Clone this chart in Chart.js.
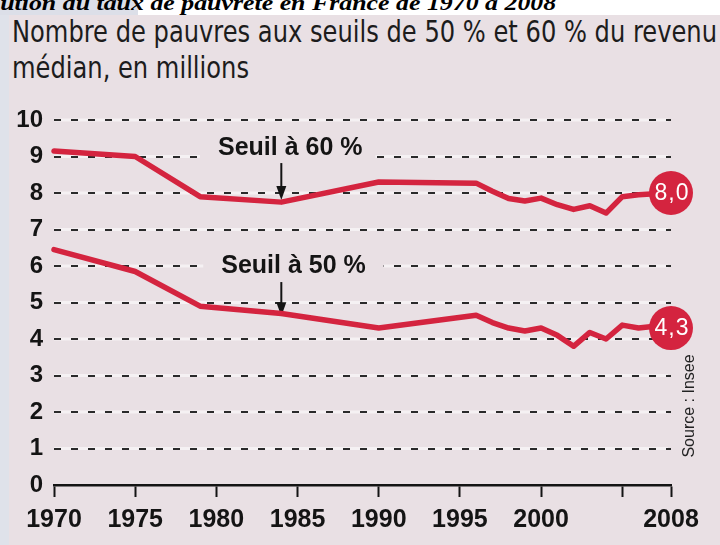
<!DOCTYPE html>
<html lang="fr">
<head>
<meta charset="UTF-8">
<title>Nombre de pauvres</title>
<script src="https://cdn.jsdelivr.net/npm/chart.js"></script>
<style>
  html, body { margin: 0; padding: 0; }
  body { width: 720px; height: 545px; overflow: hidden; position: relative; background: #e9e0e4; }
  #edge { position: absolute; left: 0; top: 0; width: 9px; height: 545px; background: #dfe2ea; }
  #topgrey { position: absolute; left: 0; top: 0; width: 138px; height: 15px; background: #dcdfe8; }
  #topwhite { position: absolute; left: 138px; top: 0; width: 582px; height: 15px; background: #fff; }
  #sup { position: absolute; right: 164px; top: -7px; font: italic bold 21px/21px "Liberation Serif", "Times New Roman", serif;
         white-space: nowrap; color: #000; transform-origin: 100% 0; }
  .sub { position: absolute; left: 12px; font: 30px/30px "Liberation Sans Narrow", "DejaVu Sans Condensed", "Liberation Sans", sans-serif;
         color: #1c1c1c; white-space: nowrap; transform-origin: 0 0; }
  #wrap { position: absolute; left: 0; top: 0; width: 720px; height: 545px; }
</style>
</head>
<body>
<div id="edge"></div>
<div id="topgrey"></div>
<div id="topwhite"></div>
<div id="sup"><span>Évol</span><span id="supvis">ution du taux de pauvreté en France de 1970 à 2008</span></div>
<div class="sub" id="sub1" style="top:17px">Nombre de pauvres aux seuils de 50 % et 60 % du revenu</div>
<div class="sub" id="sub2" style="top:53px">médian, en millions</div>
<div id="wrap"><canvas id="myChart" width="720" height="545"></canvas></div>
<script>
// data (millions)
const years   = [1970, 1975, 1979, 1984, 1990, 1996, 1997, 1998, 1999, 2000, 2001, 2002, 2003, 2004, 2005, 2006, 2007, 2008];
const seuil60 = [9.15, 9.0, 7.9, 7.75, 8.3, 8.27, 8.05, 7.85, 7.78, 7.86, 7.68, 7.55, 7.65, 7.45, 7.9, 7.95, 7.98, 8.0];
const seuil50 = [6.45, 5.85, 4.9, 4.7, 4.3, 4.65, 4.45, 4.3, 4.22, 4.3, 4.1, 3.8, 4.18, 4.0, 4.38, 4.3, 4.35, 4.3];
const seriesNames = ['Seuil à 60 %', 'Seuil à 50 %'];
const endLabels = ['8,0', '4,3'];
const xTicks = [1970, 1975, 1980, 1985, 1990, 1995, 2000, 2005, 2008];
const xTickLabels = ['1970', '1975', '1980', '1985', '1990', '1995', '2000', '', '2008'];
const yTicks = [0, 1, 2, 3, 4, 5, 6, 7, 8, 9, 10];

const red = '#d4243f';
const bg = '#e9e0e4';
const ink = '#141414';

// fit the headline widths to the picture
const s1 = document.getElementById('sub1');
const k = 705 / s1.getBoundingClientRect().width;
s1.style.transform = 'scaleX(' + k + ')';
document.getElementById('sub2').style.transform = 'scaleX(' + k + ')';
const sv = document.getElementById('supvis');
document.getElementById('sup').style.transform = 'scaleX(' + (556 / sv.getBoundingClientRect().width) + ')';

function points(vals) {
  return years.map((y, i) => ({x: y, y: vals[i]}));
}
function endDot(r) {
  return years.map((_, i) => i === years.length - 1 ? r : 0);
}

// arrow + label notes, in data units
const notes = [
  {text: seriesNames[0], x: 1980.1, y: 9.04, arrowX: 1984, from: 8.82, to: 7.81, boxTo: 1989.8},
  {text: seriesNames[1], x: 1980.3, y: 5.81, arrowX: 1984, from: 5.56, to: 4.62, boxTo: 1990.3}
];

const gridGlow = {
  id: 'gridGlow',
  beforeDatasetsDraw(chart) {
    // nothing here, grid already drawn
  },
  beforeDraw(chart) {
    const {ctx, chartArea, scales} = chart;
    ctx.save();
    ctx.strokeStyle = 'rgba(255,255,255,0.55)';
    ctx.lineWidth = 3;
    yTicks.forEach(v => {
      if (v === 0) return;
      const y = scales.y.getPixelForValue(v);
      ctx.beginPath();
      ctx.moveTo(chartArea.left, y);
      ctx.lineTo(chartArea.right - 3, y);
      ctx.stroke();
    });
    ctx.restore();
  }
};

const notesPlugin = {
  id: 'notes',
  beforeDatasetsDraw(chart) {
    const {ctx, scales} = chart;
    ctx.save();
    ctx.font = 'bold 25px "Liberation Sans", Arial, sans-serif';
    notes.forEach(n => {
      const tx = scales.x.getPixelForValue(n.x);
      const ty = scales.y.getPixelForValue(n.y);
      const w = ctx.measureText(n.text).width;
      const bx = tx - 18;
      const bxr = scales.x.getPixelForValue(n.boxTo);
      ctx.fillStyle = bg;
      ctx.fillRect(bx, ty - 24, bxr - bx, 34);
      ctx.fillStyle = ink;
      ctx.textBaseline = 'alphabetic';
      ctx.fillText(n.text, tx, ty);
      // arrow
      const ax = scales.x.getPixelForValue(n.arrowX);
      const y1 = scales.y.getPixelForValue(n.from);
      const y2 = scales.y.getPixelForValue(n.to);
      ctx.strokeStyle = ink;
      ctx.lineWidth = 2;
      ctx.beginPath();
      ctx.moveTo(ax, y1);
      ctx.lineTo(ax, y2 - 6);
      ctx.stroke();
      ctx.beginPath();
      ctx.moveTo(ax, y2);
      ctx.lineTo(ax - 5, y2 - 14);
      ctx.lineTo(ax + 5, y2 - 14);
      ctx.closePath();
      ctx.fill();
    });
    ctx.restore();
  }
};

const endLabelPlugin = {
  id: 'endLabels',
  afterDatasetsDraw(chart) {
    const {ctx} = chart;
    ctx.save();
    ctx.fillStyle = '#fff';
    ctx.font = '23px "Liberation Sans", Arial, sans-serif';
    ctx.textAlign = 'center';
    ctx.textBaseline = 'middle';
    if ('letterSpacing' in ctx) ctx.letterSpacing = '1px';
    chart.data.datasets.forEach((ds, i) => {
      const meta = chart.getDatasetMeta(i);
      const pt = meta.data[meta.data.length - 1];
      ctx.fillText(endLabels[i], pt.x + 1, pt.y + 1);
    });
    ctx.restore();
  }
};

const sourcePlugin = {
  id: 'source',
  afterDraw(chart) {
    const {ctx, chartArea} = chart;
    ctx.save();
    ctx.translate(chartArea.right + 19, chartArea.bottom - 79);
    ctx.rotate(-Math.PI / 2);
    ctx.fillStyle = '#222';
    ctx.font = '16px "Liberation Sans", Arial, sans-serif';
    ctx.textAlign = 'center';
    ctx.textBaseline = 'middle';
    ctx.fillText('Source : Insee', 0, 0);
    ctx.restore();
  }
};

const ctx = document.getElementById('myChart');
const myChart = new Chart(ctx, {
  type: 'line',
  data: {
    datasets: [
      {label: seriesNames[0], data: points(seuil60)},
      {label: seriesNames[1], data: points(seuil50)}
    ].map(d => Object.assign(d, {
      borderColor: red,
      borderWidth: 5.5,
      borderJoinStyle: 'round',
      borderCapStyle: 'round',
      pointRadius: endDot(22),
      pointHoverRadius: endDot(22),
      pointBackgroundColor: red,
      pointBorderWidth: 0,
      tension: 0,
      clip: false
    }))
  },
  options: {
    responsive: false,
    animation: false,
    events: [],
    layout: {padding: {top: 120, right: 49, bottom: 0, left: 0}},
    plugins: {legend: {display: false}, tooltip: {enabled: false}},
    scales: {
      x: {
        type: 'linear',
        min: 1970,
        max: 2008,
        afterBuildTicks(scale) { scale.ticks = xTicks.map(v => ({value: v})); },
        afterFit(scale) { scale.height = 60; },
        ticks: {
          autoSkip: false,
          maxRotation: 0,
          padding: 8,
          color: ink,
          font: {family: '"Liberation Sans", Arial, sans-serif', size: 25, weight: 'bold'},
          callback: (v, i) => xTickLabels[i]
        },
        grid: {drawOnChartArea: false, drawTicks: true, tickLength: 12, tickColor: ink, tickWidth: 2},
        border: {display: true, color: ink, width: 2.5}
      },
      y: {
        min: 0,
        max: 10,
        afterBuildTicks(scale) { scale.ticks = yTicks.map(v => ({value: v})); },
        afterFit(scale) { scale.width = 54; },
        ticks: {
          padding: 11,
          color: ink,
          font: {family: '"Liberation Sans", Arial, sans-serif', size: 24, weight: 'bold'}
        },
        grid: {
          drawTicks: false,
          lineWidth: 2,
          color: c => c.tick && c.tick.value === 0 ? 'rgba(0,0,0,0)' : '#2a2a2a'
        },
        border: {display: false, dash: [7, 10]}
      }
    }
  },
  plugins: [gridGlow, notesPlugin, endLabelPlugin, sourcePlugin]
});
</script>
</body>
</html>
